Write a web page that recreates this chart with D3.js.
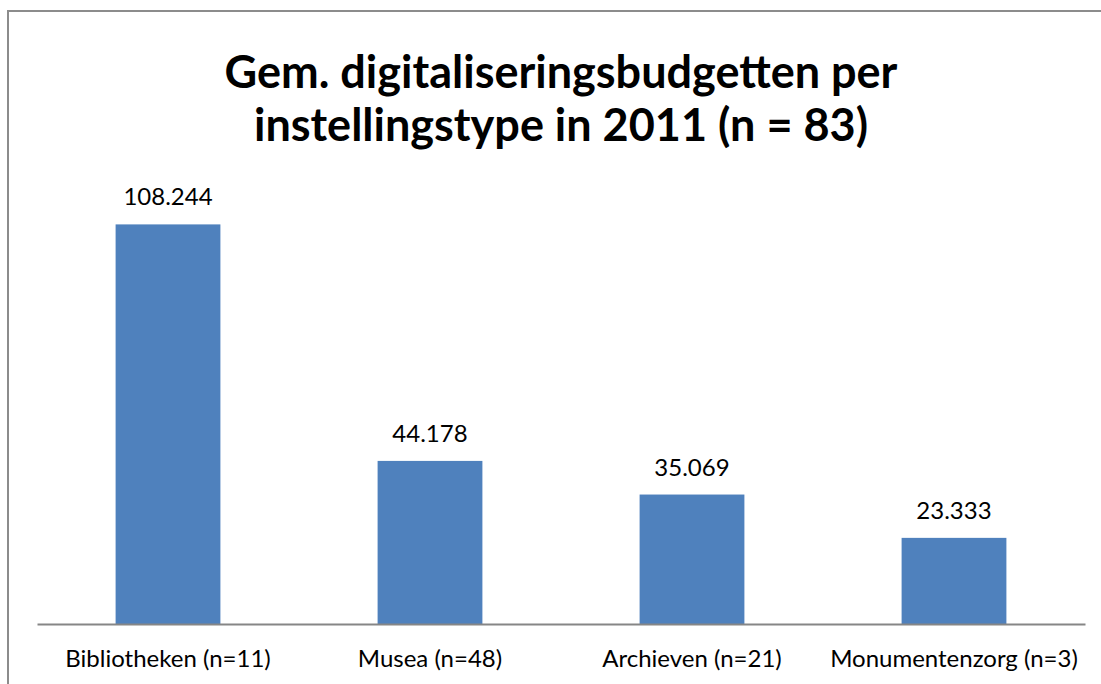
<!DOCTYPE html>
<html>
<head>
<meta charset="utf-8">
<script src="https://cdn.jsdelivr.net/npm/d3@7"></script>
<style>
  html, body { margin: 0; padding: 0; background: #fff; }
  svg { display: block; }
</style>
</head>
<body>
<svg id="chart" width="1101" height="684"></svg>
<script>
// Average digitisation budgets per institution type, 2011
const categories = ["Bibliotheken (n=11)", "Musea (n=48)", "Archieven (n=21)", "Monumentenzorg (n=3)"];
const budgets = [108244, 44178, 35069, 23333];
const valueLabels = ["108.244", "44.178", "35.069", "23.333"];
const titleLines = ["Gem. digitaliseringsbudgetten per", "instellingstype in 2011 (n = 83)"];

const svg = d3.select("#chart");
const font = "Lato, 'Open Sans', 'Liberation Sans', sans-serif";

// chart frame
svg.append("rect")
  .attr("x", 8).attr("y", 11)
  .attr("width", 1200).attr("height", 800)
  .attr("fill", "none")
  .attr("stroke", "#8c8c8c")
  .attr("stroke-width", 2);

// title
const title = svg.append("text")
  .attr("text-anchor", "middle")
  .attr("font-family", font)
  .attr("font-weight", "bold")
  .attr("font-size", 45)
  .attr("fill", "#000");
titleLines.forEach((line, i) => {
  title.append("tspan")
    .attr("x", 561)
    .attr("y", 88 + i * 53)
    .text(line);
});

const x = d3.scaleBand()
  .domain(categories)
  .range([37, 1085])
  .paddingInner(0.6)
  .paddingOuter(0.3);

const y = d3.scaleLinear()
  .domain([0, 120000])
  .range([624, 181]);

// bars
svg.append("g")
  .selectAll("rect")
  .data(budgets)
  .join("rect")
  .attr("x", (d, i) => x(categories[i]))
  .attr("y", d => y(d))
  .attr("width", x.bandwidth())
  .attr("height", d => y(0) - y(d))
  .attr("fill", "#4f81bd");

// data labels
svg.append("g")
  .selectAll("text")
  .data(budgets)
  .join("text")
  .attr("x", (d, i) => x(categories[i]) + x.bandwidth() / 2)
  .attr("y", d => y(d) - 19)
  .attr("text-anchor", "middle")
  .attr("font-family", font)
  .attr("font-size", 24)
  .attr("fill", "#000")
  .text((d, i) => valueLabels[i]);

// category axis
const xAxis = svg.append("g")
  .attr("transform", `translate(0,${y(0)})`)
  .call(d3.axisBottom(x).tickSize(0).tickPadding(26));
xAxis.select(".domain")
  .attr("stroke", "#868686")
  .attr("stroke-width", 2);
xAxis.selectAll("text")
  .attr("font-family", font)
  .attr("font-size", 24)
  .attr("fill", "#000");
</script>
</body>
</html>
